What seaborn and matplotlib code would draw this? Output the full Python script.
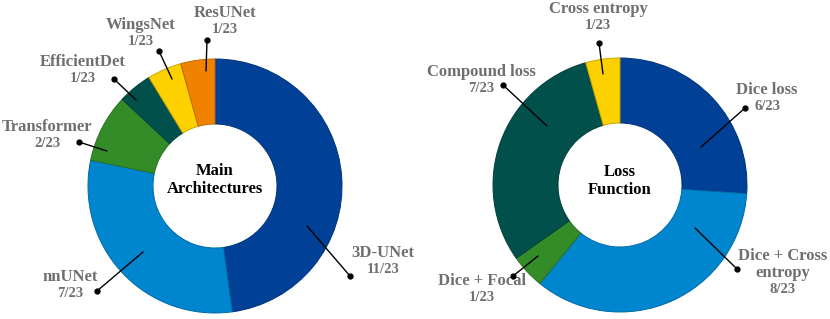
import numpy as np
import seaborn as sns
import matplotlib.pyplot as plt
from matplotlib.colors import to_rgb

# data
arch_names = ["3D-UNet", "nnUNet", "Transformer", "EfficientDet", "WingsNet", "ResUNet"]
arch_counts = [11, 7, 2, 1, 1, 1]
loss_names = ["Dice loss", "Dice + Cross\nentropy", "Dice + Focal", "Compound loss", "Cross entropy"]
loss_counts = [6, 8, 1, 7, 1]
total = 23

arch_colors = ["#004097", "#0085CF", "#348C28", "#02504B", "#FDD100", "#EF8300"]
loss_colors = ["#004097", "#0085CF", "#348C28", "#02504B", "#FDD100"]

sns.set_theme(style="white")
plt.rcParams['font.family'] = ['Liberation Serif', 'DejaVu Serif']

W, H = 830, 319
fig = plt.figure(figsize=(W / 100, H / 100), dpi=100)
ax = fig.add_axes([0, 0, 1, 1])


def darker(c, f=0.8):
    r, g, b = to_rgb(c)
    return (r * f, g * f, b * f)


def donut(cx, cy, counts, colors):
    ax.pie(counts, colors=colors, startangle=90, counterclock=False,
           center=(cx, H - cy), radius=127, frame=True,
           wedgeprops=dict(width=65, linewidth=0.7))
    for w, c in zip(ax.patches[-len(counts):], colors):
        w.set_edgecolor(darker(c))


# label layout: (text x, split y between name and count, line start x, y, dot x, y) in pixels
arch_layout = [
    (383, 263, 307, 226, 350, 276),
    (70, 287, 143, 252, 97, 291),
    (47, 137, 107, 151, 79, 142),
    (83, 72, 136, 100, 114, 79),
    (141, 35, 172, 79, 159, 51),
    (225, 23, 206, 71, 207, 40),
]
loss_layout = [
    (767, 100, 701, 147, 745, 108),
    (783, 283, 695, 228, 737, 269),
    (482, 291, 538, 256, 513, 276),
    (481, 82, 547, 126, 503, 85),
    (598, 19, 603, 74, 599, 43),
]


def labels(names, counts, layout):
    for name, n, (tx, ty, x0, y0, x1, y1) in zip(names, counts, layout):
        ax.plot([x0, x1], [H - y0, H - y1], color='black', lw=1.0, zorder=5)
        ax.plot(x1, H - y1, 'o', color='black', ms=3.5, zorder=6)
        ax.text(tx, H - ty + 2, name, ha='center', va='bottom',
                fontsize=12, fontweight='bold', color='#6F6F6F', linespacing=1.05)
        ax.text(tx, H - ty, f"{n}/{total}", ha='center', va='top',
                fontsize=10.5, fontweight='bold', color='#6F6F6F')


donut(215, 186, arch_counts, arch_colors)
donut(620, 185, loss_counts, loss_colors)
ax.set_xlim(0, W)
ax.set_ylim(0, H)
ax.set_aspect('equal')
ax.axis('off')

labels(arch_names, arch_counts, arch_layout)
labels(loss_names, loss_counts, loss_layout)

ax.text(215, H - 180, "Main\nArchitectures", ha='center', va='center',
        fontsize=12, fontweight='bold', color='black', linespacing=1.1)
ax.text(620, H - 181, "Loss\nFunction", ha='center', va='center',
        fontsize=12, fontweight='bold', color='black', linespacing=1.1)

fig.savefig("out.png", dpi=100)
